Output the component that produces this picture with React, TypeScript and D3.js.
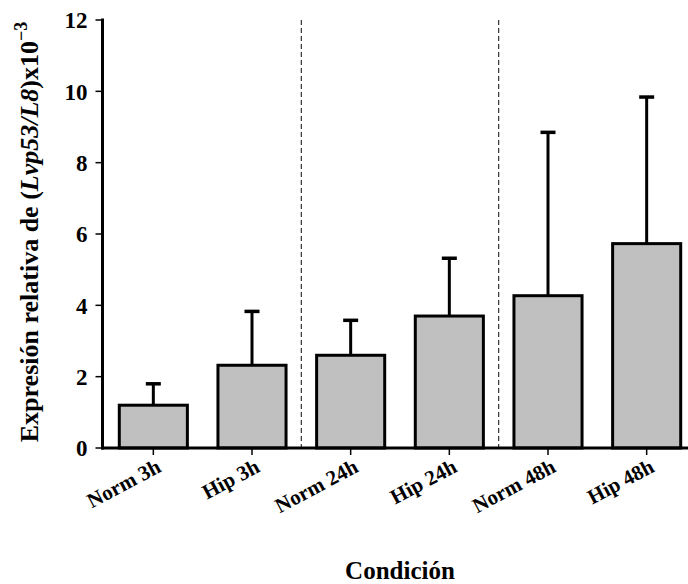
import React from "react";
import * as d3 from "d3";

const categories = ["Norm 3h", "Hip 3h", "Norm 24h", "Hip 24h", "Norm 48h", "Hip 48h"];
const means = [1.2, 2.32, 2.6, 3.7, 4.27, 5.73];
const upper = [1.8, 3.83, 3.58, 5.32, 8.85, 9.84];
const yTicks = [0, 2, 4, 6, 8, 10, 12];
const separators = [1.5, 3.5];

const W = 688;
const H = 584;
const FONT = "'Liberation Serif', 'Times New Roman', serif";

export default function App() {
  const y = d3.scaleLinear().domain([0, 12]).range([448, 20]);
  const x = d3.scaleBand<string>().domain(categories).range([104, 696]).paddingInner(0.31).paddingOuter(0.155);
  const step = x.step();
  const bw = x.bandwidth();
  const axisX = 102.5;
  const center = (i: number) => (x(categories[i]) as number) + bw / 2;

  return (
    <svg width={W} height={H} style={{ position: "absolute", left: 0, top: 0, background: "#fff" }}>
      {separators.map((s, i) => {
        const sx = center(0) + s * step;
        return (
          <line key={i} x1={sx} x2={sx} y1={y(12)} y2={y(0)} stroke="#333" strokeWidth={1.2} strokeDasharray="5,3" />
        );
      })}
      {categories.map((c, i) => {
        const cx = center(i);
        return (
          <g key={c}>
            <line x1={cx} x2={cx} y1={y(means[i])} y2={y(upper[i])} stroke="#000" strokeWidth={3} />
            <line x1={cx - 7.5} x2={cx + 7.5} y1={y(upper[i])} y2={y(upper[i])} stroke="#000" strokeWidth={3.5} />
            <rect x={x(c)} y={y(means[i])} width={bw} height={y(0) - y(means[i])} fill="#c0c0c0" stroke="#000" strokeWidth={3} />
          </g>
        );
      })}
      {/* axes */}
      <line x1={axisX} x2={axisX} y1={y(12) - 1.5} y2={y(0) + 1.5} stroke="#000" strokeWidth={3} />
      <line x1={axisX - 1.5} x2={W + 10} y1={y(0)} y2={y(0)} stroke="#000" strokeWidth={3} />
      {yTicks.map((t) => (
        <g key={t}>
          <line x1={axisX - 7} x2={axisX} y1={y(t)} y2={y(t)} stroke="#000" strokeWidth={1.5} />
          <text x={axisX - 15} y={y(t)} dy="0.36em" textAnchor="end" fontFamily={FONT} fontWeight="bold" fontSize={23}>
            {t}
          </text>
        </g>
      ))}
      {categories.map((c, i) => {
        const cx = center(i);
        return (
          <g key={"t" + c}>
            <line x1={cx} x2={cx} y1={y(0)} y2={y(0) + 7} stroke="#000" strokeWidth={1.5} />
            <text
              transform={`translate(${cx + 9},${y(0) + 23}) rotate(-28)`}
              textAnchor="end"
              fontFamily={FONT}
              fontWeight="bold"
              fontSize={21}
            >
              {c}
            </text>
          </g>
        );
      })}
      <text x={400} y={579} textAnchor="middle" fontFamily={FONT} fontWeight="bold" fontSize={25}>
        Condición
      </text>
      <text
        transform={`translate(38,${(y(0) + y(12)) / 2 - 2}) rotate(-90)`}
        textAnchor="middle"
        fontFamily={FONT}
        fontWeight="bold"
        fontSize={26}
      >
        Expresión relativa de (<tspan fontStyle="italic">Lvp53/L8</tspan>)x10
        <tspan dy={-11} fontSize={18}>−3</tspan>
      </text>
    </svg>
  );
}
